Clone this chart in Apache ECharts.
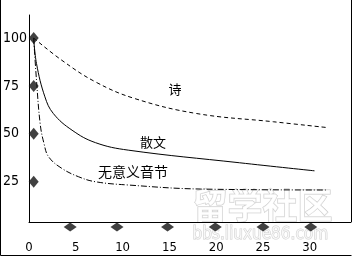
<!DOCTYPE html>
<html>
<head>
<meta charset="utf-8">
<script src="https://cdn.jsdelivr.net/npm/echarts@6/dist/echarts.min.js"></script>
<style>
html,body{margin:0;padding:0;background:#fff;}
#chart{width:356px;height:257px;}
</style>
</head>
<body>
<div id="chart"></div>
<script>
// ---- data ----
const xTickLabels = [0, 5, 10, 15, 20, 25, 30];
const yTickLabels = [25, 50, 75, 100];

const poemX = [0.5, 3.5, 7.1, 11.3, 17.9, 26.1, 31.8];
const poemY = [100, 88.4, 77.1, 68.4, 60.6, 56.3, 53.3];

const proseX = [0.5, 0.8, 1.7, 2.6, 4.6, 7.1, 10.6, 22.5, 30.5];
const proseY = [100, 86.7, 69.3, 60.6, 51.9, 45.4, 41.5, 34.9, 30.7];

const nonsenseX = [0.5, 0.8, 1.2, 1.6, 2.1, 3.5, 5.3, 7.1, 10.6, 18.3, 31.8];
const nonsenseY = [100, 78, 55, 45, 38, 32, 27.6, 25, 23.3, 21.2, 20.7];

const yMarkX = [0.5, 0.5, 0.5, 0.5];
const yMarkY = [100, 75, 50, 25];
const xMarkX = [4.4, 9.4, 14.8, 19.9, 25, 30.1];
const xMarkY = [1.4, 1.4, 1.4, 1.4, 1.4, 1.4];

const seriesNames = ['诗', '散文', '无意义音节'];

const zip = (xs, ys) => xs.map((x, i) => [x, ys[i]]);

const numFont = '"Liberation Sans Narrow", "DejaVu Sans Condensed", "Liberation Sans", sans-serif';
const cjkFont = '"Noto Sans CJK SC", "Noto Sans CJK JP", sans-serif';

const chart = echarts.init(document.getElementById('chart'), null, {renderer: 'canvas'});
chart.setOption({
  animation: false,
  backgroundColor: '#ffffff',
  grid: {left: 28, right: 5, top: 15, bottom: 35},
  xAxis: {
    type: 'value', min: 0, max: 34.4,
    axisLine: {show: true, lineStyle: {color: '#000', width: 1}},
    axisTick: {show: false},
    splitLine: {show: false},
    axisLabel: {
      customValues: xTickLabels,
      color: '#000', fontFamily: numFont, fontSize: 13, margin: 19
    }
  },
  yAxis: {
    type: 'value', min: 4, max: 112,
    axisLine: {show: true, lineStyle: {color: '#000', width: 1}},
    axisTick: {show: false},
    splitLine: {show: false},
    axisLabel: {
      customValues: yTickLabels,
      color: '#000', fontFamily: numFont, fontSize: 14, margin: 26, align: 'left'
    }
  },
  graphic: [
    {type: 'text', z: 0, silent: true, left: 192, top: 188,
     style: {text: '留学社区', fontSize: 35, fontWeight: 'bold', fontFamily: cjkFont,
             fill: 'rgba(255,255,255,0.7)', stroke: '#c9c9c9', lineWidth: 1}},
    {type: 'text', z: 0, silent: true, left: 192, top: 226,
     style: {text: 'bbs.liuxue86.com', fontSize: 17, fontFamily: numFont,
             fill: 'rgba(255,255,255,0.7)', stroke: '#cfcfcf', lineWidth: 1}},
    {type: 'polyline', z: 100, silent: true,
     shape: {points: [[0.5, 0], [0.5, 255.5], [351.5, 255.5]]},
     style: {stroke: '#000', lineWidth: 1, fill: null}},
    {type: 'line', z: 100, silent: true,
     shape: {x1: 351.5, y1: 0, x2: 351.5, y2: 222},
     style: {stroke: '#000', lineWidth: 1}},
    {type: 'text', z: 100, x: 175, y: 89,
     style: {text: seriesNames[0], fontSize: 13, fontFamily: cjkFont, fill: '#000', align: 'center', verticalAlign: 'middle'}},
    {type: 'text', z: 100, x: 153, y: 142,
     style: {text: seriesNames[1], fontSize: 13, fontFamily: cjkFont, fill: '#000', align: 'center', verticalAlign: 'middle'}},
    {type: 'text', z: 100, x: 133, y: 172,
     style: {text: seriesNames[2], fontSize: 14, fontFamily: cjkFont, fill: '#000', align: 'center', verticalAlign: 'middle'}}
  ],
  series: [
    {name: seriesNames[0], type: 'line', data: zip(poemX, poemY), showSymbol: false,
     smooth: 0.4,
     lineStyle: {color: '#000', width: 1, type: [4, 3]}},
    {name: seriesNames[1], type: 'line', data: zip(proseX, proseY), showSymbol: false,
     smooth: 0.4,
     lineStyle: {color: '#000', width: 1, type: 'solid'}},
    {name: seriesNames[2], type: 'line', data: zip(nonsenseX, nonsenseY), showSymbol: false,
     smooth: 0.4,
     lineStyle: {color: '#000', width: 1, type: [6, 2, 1, 2]}},
    {type: 'scatter', data: zip(yMarkX, yMarkY), symbol: 'diamond', symbolSize: [10, 12],
     clip: false, itemStyle: {color: '#111'}, z: 5},
    {type: 'scatter', data: zip(xMarkX, xMarkY), symbol: 'diamond', symbolSize: [13, 9],
     clip: false, itemStyle: {color: '#111'}, z: 5}
  ]
});
</script>
</body>
</html>
